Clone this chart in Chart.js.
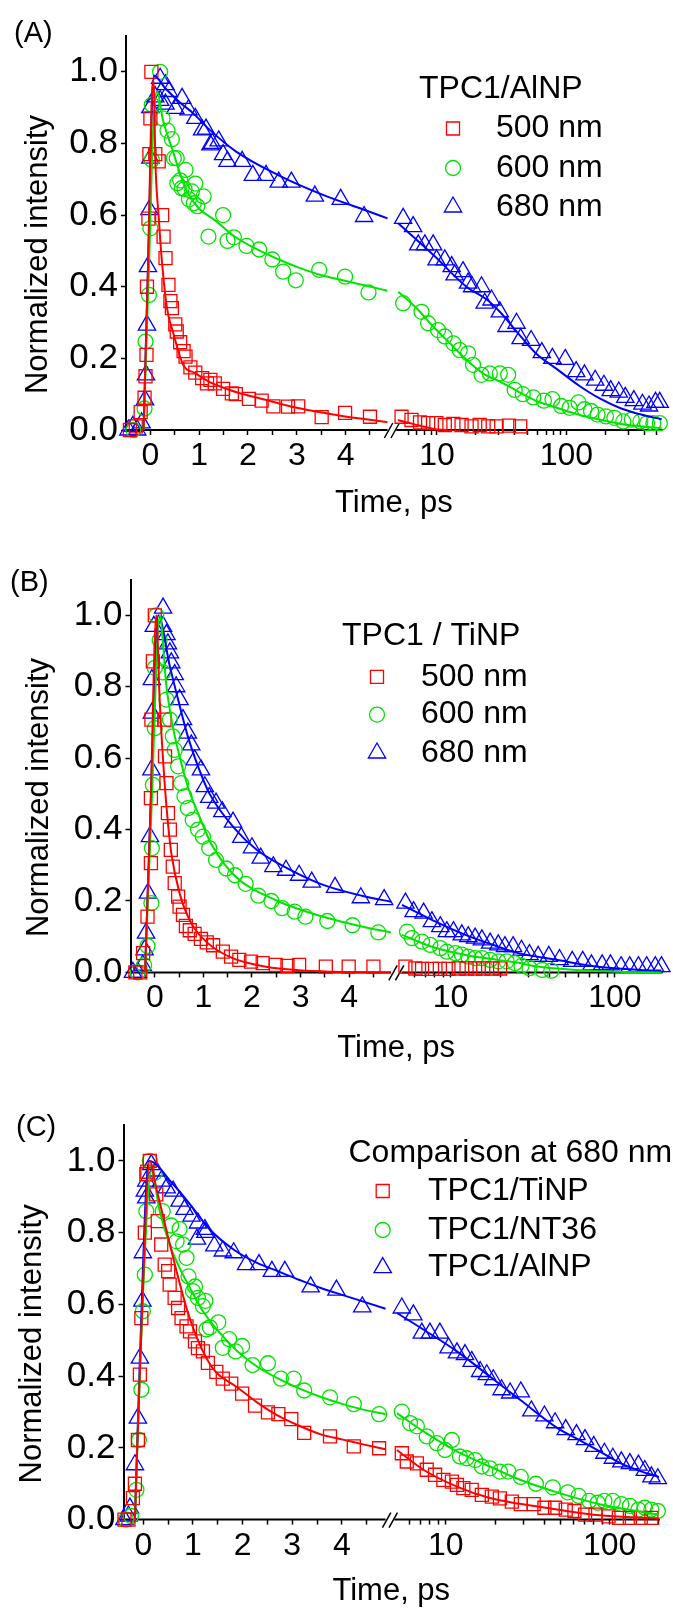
<!DOCTYPE html>
<html>
<head>
<meta charset="utf-8">
<script src="https://cdn.jsdelivr.net/npm/chart.js@4.4.1/dist/chart.umd.min.js"></script>
<style>
html,body{margin:0;padding:0;background:#fff;}
#wrap{position:relative;width:673px;height:1613px;overflow:hidden;}
canvas{position:absolute;left:0;}
</style>
</head>
<body>
<div id="wrap">
<canvas id="cA" width="673" height="537" style="top:0px"></canvas>
<canvas id="cB" width="673" height="537" style="top:537px"></canvas>
<canvas id="cC" width="673" height="539" style="top:1074px"></canvas>
</div>
<script>
// ---------------- DATA (time in ps, normalized intensity) ----------------
const TICKS_A = [0,0.5,1,1.5,2,2.5,3,3.5,4,4.5,6,7,8,9,10,20,30,40,50,60,70,80,90,100,200,300,400,500];
const TICKS_BC = [0,0.5,1,1.5,2,2.5,3,3.5,4,4.5,6,7,8,9,10,20,30,40,50,60,70,80,90,100];
const TICKS_C = [0,0.5,1,1.5,2,2.5,3,3.5,4,4.5,6,7,8,9,10,20,30,40,50,60,70,80,90,100,200];
const X_LABELS = [0,1,2,3,4,10,100];

// Panel A: TPC1/AlNP
const A_NAMES = ['500 nm','600 nm','680 nm'];
const A_500 = [[-0.42,0],[-0.3,0.01],[-0.2,0.05],[-0.12,0.09],[-0.1,0.15],[-0.08,0.21],[-0.07,0.40],[-0.04,0.59],[-0.02,0.77],[0.0,0.87],[0.02,1.0],[0.1,0.77],[0.17,0.75],[0.24,0.60],[0.27,0.54],[0.31,0.48],[0.37,0.405],[0.41,0.36],[0.44,0.34],[0.51,0.295],[0.54,0.275],[0.61,0.245],[0.68,0.22],[0.72,0.205],[0.82,0.175],[0.92,0.16],[1.06,0.145],[1.16,0.13],[1.23,0.14],[1.32,0.13],[1.49,0.115],[1.67,0.102],[1.75,0.10],[2.02,0.087],[2.28,0.082],[2.52,0.066],[2.82,0.065],[3.03,0.066],[3.51,0.036],[3.99,0.048],[4.5,0.037],[5.33,0.037],[6.36,0.028],[7.4,0.021],[8.55,0.019],[9.9,0.019],[11.5,0.014],[13.4,0.017],[15.5,0.014],[18.5,0.01],[21.4,0.014],[24.9,0.01],[28.9,0.01],[36,0.012],[44,0.01]];
const A_600 = [[-0.35,0],[-0.12,0.06],[-0.1,0.247],[-0.03,0.377],[0.0,0.563],[0.03,0.754],[0.03,0.908],[0.2,1.0],[0.25,0.87],[0.35,0.836],[0.44,0.812],[0.48,0.759],[0.54,0.759],[0.55,0.689],[0.61,0.697],[0.64,0.675],[0.70,0.673],[0.72,0.726],[0.79,0.644],[0.85,0.666],[0.89,0.633],[0.92,0.688],[0.96,0.625],[1.09,0.652],[1.19,0.54],[1.49,0.60],[1.58,0.528],[1.71,0.538],[1.97,0.514],[2.23,0.504],[2.50,0.476],[2.72,0.442],[2.98,0.418],[3.46,0.447],[3.99,0.428],[4.47,0.384],[5.48,0.354],[7.6,0.330],[8.55,0.298],[10.2,0.279],[11.5,0.261],[13.4,0.242],[15.0,0.223],[17.4,0.214],[19.0,0.182],[22.1,0.154],[25.6,0.158],[30.6,0.158],[35.5,0.154],[39.9,0.112],[46,0.10],[55.6,0.091],[67,0.082],[78,0.086],[91,0.067],[106,0.062],[124,0.077],[138,0.058],[155,0.053],[174,0.043],[202,0.038],[235,0.034],[275,0.024],[320,0.029],[373,0.024],[420,0.019],[470,0.019],[527,0.019]];
const A_680 = [[-0.45,0],[-0.36,0.01],[-0.27,0.0],[-0.18,0.02],[-0.11,0.084],[-0.09,0.154],[-0.07,0.293],[-0.05,0.456],[-0.02,0.615],[0.0,0.759],[0.0,0.90],[0.1,0.93],[0.2,0.982],[0.2,0.92],[0.31,0.964],[0.31,0.91],[0.38,0.945],[0.51,0.898],[0.65,0.926],[0.78,0.894],[0.92,0.870],[1.06,0.838],[1.14,0.84],[1.23,0.796],[1.27,0.80],[1.40,0.807],[1.49,0.769],[1.58,0.75],[1.88,0.75],[2.10,0.711],[2.37,0.711],[2.63,0.692],[2.89,0.692],[3.37,0.653],[3.90,0.644],[4.38,0.596],[5.48,0.591],[6.55,0.568],[7.17,0.517],[8.07,0.517],[9.35,0.517],[9.93,0.475],[11.5,0.475],[13.0,0.456],[13.7,0.433],[15.9,0.442],[17.4,0.41],[18.7,0.40],[22.1,0.40],[23.4,0.354],[26.4,0.363],[30.6,0.33],[34.5,0.289],[41.2,0.298],[44.3,0.255],[53.4,0.25],[64.6,0.216],[78,0.20],[98,0.197],[119,0.163],[138,0.154],[167,0.139],[195,0.125],[220,0.11],[254,0.106],[285,0.091],[332,0.082],[387,0.072],[435,0.067],[488,0.077],[526,0.077]];
const A_500_FIT = [[-0.14,0],[-0.05,0.45],[0.03,0.93],[0.07,0.975],[0.1,0.76],[0.17,0.595],[0.24,0.465],[0.34,0.34],[0.46,0.275],[0.68,0.18],[0.9,0.16],[1.2,0.135],[1.5,0.118],[1.8,0.104],[2.2,0.09],[3.0,0.062],[3.9,0.04],[4.86,0.022],[5.0,0.028],[6.0,0.02],[7.4,0.012],[9.4,0.003],[12,0]];
const A_600_FIT = [[-0.14,0],[-0.03,0.45],[0.06,0.85],[0.14,0.945],[0.25,0.87],[0.44,0.787],[0.72,0.675],[0.99,0.619],[1.32,0.586],[1.75,0.538],[2.19,0.504],[2.63,0.476],[3.07,0.452],[3.51,0.432],[3.94,0.418],[4.38,0.404],[4.86,0.389],[5.02,0.386],[6.96,0.34],[9.35,0.289],[12.6,0.242],[16.9,0.196],[22.7,0.158],[30.6,0.135],[41.2,0.11],[57.7,0.082],[84.5,0.062],[124,0.043],[181,0.029],[265,0.017],[388,0.01],[545,0.005]];
const A_680_FIT = [[-0.14,0],[-0.05,0.45],[0.07,0.99],[0.3,0.955],[0.6,0.915],[0.88,0.884],[1.2,0.84],[1.75,0.778],[2.63,0.711],[3.51,0.658],[4.38,0.615],[4.86,0.591],[5.02,0.577],[9.35,0.489],[16.9,0.40],[24.1,0.365],[30.6,0.33],[42.4,0.27],[57.7,0.215],[84.5,0.17],[124,0.125],[181,0.088],[265,0.06],[388,0.042],[545,0.03]];

// Panel B: TPC1 / TiNP
const B_NAMES = ['500 nm','600 nm','680 nm'];
const B_500 = [[-0.4,0],[-0.3,0],[-0.24,0.054],[-0.15,0.156],[-0.08,0.306],[-0.08,0.488],[-0.07,0.708],[-0.04,0.871],[0.0,1.0],[0.2,0.708],[0.21,0.605],[0.24,0.53],[0.27,0.446],[0.31,0.40],[0.33,0.343],[0.37,0.296],[0.41,0.25],[0.48,0.212],[0.51,0.184],[0.58,0.161],[0.64,0.13],[0.72,0.118],[0.82,0.108],[0.95,0.094],[1.07,0.084],[1.2,0.076],[1.40,0.058],[1.57,0.044],[1.74,0.035],[1.98,0.03],[2.22,0.026],[2.49,0.021],[2.73,0.018],[2.97,0.021],[3.52,0.016],[3.99,0.016],[4.5,0.016],[5.31,0.016],[6.1,0.011],[6.7,0.01],[7.7,0.01],[8.6,0.01],[9.7,0.01],[11.2,0.011],[12.5,0.011],[14.1,0.011],[15.8,0.011],[17.8,0.011],[20,0.011]];
const B_600 = [[-0.35,0],[-0.22,0.02],[-0.15,0.074],[-0.07,0.194],[-0.06,0.348],[-0.04,0.525],[0.0,0.684],[0.0,0.853],[0.03,1.0],[0.1,0.93],[0.17,0.84],[0.24,0.764],[0.31,0.708],[0.37,0.661],[0.41,0.623],[0.48,0.577],[0.54,0.53],[0.61,0.493],[0.68,0.46],[0.78,0.427],[0.89,0.40],[0.99,0.38],[1.12,0.348],[1.26,0.315],[1.47,0.291],[1.65,0.272],[1.87,0.248],[2.13,0.215],[2.40,0.20],[2.62,0.18],[2.88,0.17],[3.10,0.156],[3.55,0.144],[4.07,0.132],[4.6,0.112],[5.43,0.114],[5.82,0.096],[6.69,0.086],[7.52,0.077],[8.65,0.068],[9.48,0.058],[10.7,0.054],[11.7,0.05],[12.8,0.044],[14.1,0.04],[15.5,0.04],[17.4,0.035],[19.5,0.031],[21.9,0.031],[24.6,0.026],[27,0.018],[30.2,0.012],[36.1,0.007],[41,0.005]];
const B_680 = [[-0.45,0],[-0.35,0],[-0.25,0.02],[-0.21,0.063],[-0.18,0.11],[-0.14,0.222],[-0.1,0.38],[-0.07,0.567],[-0.06,0.726],[-0.06,0.82],[-0.02,0.969],[0.17,1.02],[0.17,0.969],[0.24,0.946],[0.27,0.92],[0.31,0.895],[0.34,0.867],[0.41,0.834],[0.44,0.80],[0.51,0.764],[0.58,0.708],[0.68,0.67],[0.75,0.637],[0.82,0.595],[0.95,0.567],[1.03,0.52],[1.12,0.49],[1.26,0.474],[1.39,0.45],[1.61,0.421],[1.78,0.378],[2.0,0.349],[2.18,0.32],[2.44,0.296],[2.70,0.286],[2.97,0.272],[3.23,0.253],[3.71,0.238],[4.24,0.209],[4.72,0.204],[5.31,0.194],[5.95,0.17],[6.85,0.166],[7.69,0.142],[8.65,0.128],[9.48,0.114],[10.4,0.114],[11.7,0.105],[12.8,0.10],[14.1,0.096],[15.5,0.091],[17.4,0.082],[19.5,0.077],[21.4,0.072],[24.0,0.072],[27,0.062],[30.2,0.05],[34.1,0.045],[39.6,0.045],[46,0.036],[55,0.031],[63.7,0.031],[72,0.021],[83.6,0.021],[94,0.021],[109,0.016],[123,0.016],[139,0.016],[156,0.016],[176,0.016],[192,0.016]];
const B_500_FIT = [[-0.2,0],[-0.09,0.45],[0.03,1.0],[0.1,0.764],[0.17,0.595],[0.24,0.465],[0.34,0.334],[0.51,0.222],[0.75,0.138],[1.09,0.082],[1.6,0.04],[2.29,0.016],[2.97,0.006],[3.65,0.002],[4.86,0.0]];
const B_600_FIT = [[-0.2,0],[-0.07,0.45],[0.1,1.0],[0.24,0.80],[0.37,0.689],[0.51,0.605],[0.68,0.52],[0.89,0.446],[1.16,0.36],[1.65,0.27],[2.53,0.20],[3.41,0.158],[4.28,0.128],[4.86,0.112],[5.06,0.105],[7.69,0.072],[12.3,0.049],[19.5,0.035],[25.8,0.027],[32,0.018],[58,0.007],[106,0.002],[192,0]];
const B_680_FIT = [[-0.2,0],[-0.09,0.45],[0.07,1.0],[0.31,0.857],[0.48,0.764],[0.68,0.661],[0.89,0.577],[1.12,0.502],[1.65,0.402],[2.09,0.344],[2.53,0.306],[3.41,0.248],[4.28,0.214],[4.86,0.198],[5.06,0.189],[7.69,0.147],[12.3,0.105],[19.5,0.072],[25.8,0.054],[43.3,0.036],[78.6,0.016],[143,0.007],[192,0.005]];

// Panel C: comparison at 680 nm
const C_NAMES = ['TPC1/TiNP','TPC1/NT36','TPC1/AlNP'];
const C_TINP = [[-0.38,0],[-0.3,0],[-0.21,0.06],[-0.17,0.10],[-0.11,0.222],[-0.07,0.404],[-0.04,0.562],[0.03,0.80],[0.06,0.963],[0.08,0.97],[0.13,1.0],[0.26,0.907],[0.29,0.832],[0.36,0.767],[0.43,0.711],[0.50,0.693],[0.53,0.655],[0.63,0.618],[0.70,0.59],[0.77,0.562],[0.87,0.539],[0.94,0.525],[1.04,0.497],[1.1,0.478],[1.2,0.469],[1.3,0.437],[1.47,0.412],[1.60,0.393],[1.77,0.379],[1.99,0.351],[2.25,0.318],[2.51,0.299],[2.72,0.294],[2.98,0.28],[3.24,0.242],[3.76,0.232],[4.24,0.204],[4.75,0.199],[5.39,0.185],[5.78,0.162],[6.66,0.157],[7.65,0.139],[8.6,0.125],[9.67,0.111],[10.9,0.106],[11.7,0.097],[12.8,0.088],[14.4,0.083],[16.6,0.069],[19.1,0.064],[21.4,0.059],[25.3,0.05],[28.7,0.043],[34.4,0.043],[40,0.033],[46.5,0.033],[54,0.028],[61,0.024],[70.8,0.014],[82,0.014],[98.5,0.009],[114,0.005],[133,0.005],[155,0.005],[180,0.005]];
const C_NT36 = [[-0.35,0],[-0.25,0.01],[-0.14,0.083],[-0.09,0.222],[-0.04,0.362],[-0.01,0.581],[0.03,0.683],[0.06,0.86],[0.13,1.0],[0.23,0.967],[0.39,0.86],[0.56,0.82],[0.67,0.776],[0.73,0.81],[0.80,0.767],[0.87,0.73],[0.91,0.678],[1.0,0.637],[1.04,0.65],[1.1,0.618],[1.2,0.595],[1.25,0.61],[1.27,0.53],[1.34,0.536],[1.51,0.55],[1.60,0.479],[1.73,0.503],[1.86,0.469],[1.99,0.484],[2.20,0.431],[2.51,0.436],[2.77,0.393],[3.03,0.393],[3.24,0.36],[3.76,0.341],[4.24,0.322],[4.75,0.294],[5.39,0.301],[6.05,0.269],[6.66,0.26],[7.65,0.232],[8.81,0.213],[9.9,0.194],[10.9,0.222],[12.2,0.176],[13.4,0.171],[15.1,0.166],[16.6,0.148],[18.6,0.143],[21.4,0.134],[24.1,0.134],[28.7,0.119],[35.5,0.10],[45,0.09],[55.6,0.076],[64.7,0.066],[75,0.052],[84.6,0.047],[93,0.052],[104.7,0.052],[118,0.043],[133,0.038],[150,0.028],[164,0.033],[180,0.028],[197,0.024]];
const C_ALNP = [[-0.38,0],[-0.3,0.01],[-0.27,0.032],[-0.17,0.153],[-0.11,0.283],[-0.07,0.45],[-0.02,0.609],[-0.01,0.744],[0.03,0.916],[0.06,0.897],[0.06,0.944],[0.16,0.99],[0.26,0.972],[0.36,0.944],[0.47,0.925],[0.6,0.916],[0.73,0.888],[0.83,0.865],[0.97,0.846],[1.08,0.782],[1.1,0.827],[1.24,0.809],[1.25,0.801],[1.43,0.763],[1.60,0.749],[1.82,0.744],[2.07,0.711],[2.33,0.711],[2.59,0.692],[2.85,0.692],[3.37,0.649],[3.89,0.64],[4.41,0.593],[5.39,0.59],[6.34,0.571],[7.14,0.52],[8.0,0.52],[9.2,0.52],[10.4,0.479],[11.7,0.465],[13.1,0.46],[14.4,0.441],[16.2,0.413],[17.8,0.404],[19.5,0.39],[21.9,0.362],[24.7,0.353],[28.7,0.356],[33.3,0.303],[40,0.289],[46.5,0.27],[54,0.251],[62.8,0.237],[70.8,0.223],[80,0.204],[93,0.185],[104.7,0.171],[118,0.161],[133,0.156],[150,0.152],[164,0.137],[180,0.119],[197,0.114]];
const C_TINP_FIT = [[-0.17,0],[-0.06,0.45],[0.13,1.0],[0.26,0.925],[0.47,0.804],[0.67,0.692],[0.87,0.59],[1.07,0.51],[1.30,0.443],[1.47,0.41],[1.86,0.372],[2.29,0.327],[2.72,0.289],[3.15,0.261],[3.59,0.237],[4.02,0.223],[4.45,0.209],[4.88,0.196],[5.03,0.194],[7.3,0.139],[11.7,0.092],[18.6,0.06],[28.4,0.044],[47.8,0.028],[87,0.012],[159,0.005],[200,0.003]];
const C_NT36_FIT = [[-0.17,0],[-0.06,0.45],[0.16,0.972],[0.33,0.86],[0.53,0.767],[0.73,0.702],[0.94,0.646],[1.2,0.581],[1.86,0.474],[2.29,0.427],[2.72,0.393],[3.15,0.365],[3.59,0.341],[4.02,0.322],[4.45,0.306],[4.88,0.294],[5.03,0.297],[7.3,0.246],[11.7,0.19],[18.6,0.148],[28.4,0.111],[47.8,0.076],[87,0.043],[159,0.021],[200,0.014]];
const C_ALNP_FIT = [[-0.17,0],[-0.07,0.45],[0.11,1.0],[0.6,0.935],[0.94,0.879],[1.34,0.809],[1.86,0.749],[2.29,0.716],[2.72,0.692],[3.15,0.668],[3.59,0.645],[4.02,0.626],[4.45,0.607],[4.88,0.588],[5.03,0.576],[7.3,0.53],[11.7,0.469],[18.6,0.399],[28.4,0.334],[47.8,0.256],[64.7,0.223],[87,0.19],[118,0.156],[159,0.133],[200,0.119]];

// ---------------- STYLE ----------------
const FONT = "'Liberation Sans', Arial, Helvetica, sans-serif";
Chart.defaults.font.family = FONT;
Chart.defaults.color = '#000';
const COLORS = ['#ff0000', '#00e400', '#0000ff'];
const STYLES = ['rect', 'circle', 'triangle'];
const RADII = [9.2, 7.5, 10];

// Broken time axis: linear part, small gap, logarithmic part
class BrokenTimeScale extends Chart.Scale {
  static id = 'brokenTime';
  static defaults = {};
  determineDataLimits() { this.min = this.options.min; this.max = this.options.max; }
  buildTicks() { return []; }
  getLabelForValue(v) { return String(v); }
  _frac(v) {
    const o = this.options;
    if (v <= o.linEnd) return (v - o.min) / (o.linEnd - o.min) * o.splitLin;
    const l0 = Math.log10(o.logStart), l1 = Math.log10(o.max);
    return o.splitLog + (Math.log10(v) - l0) / (l1 - l0) * (1 - o.splitLog);
  }
  getPixelForValue(v) {
    if (v === null || v === undefined || isNaN(v)) return NaN;
    return this.getPixelForDecimal(this._frac(v));
  }
  getValueForPixel(p) {
    const o = this.options, f = this.getDecimalForPixel(p);
    if (f <= o.splitLin) return o.min + f / o.splitLin * (o.linEnd - o.min);
    const l0 = Math.log10(o.logStart), l1 = Math.log10(o.max);
    return Math.pow(10, l0 + (f - o.splitLog) / (1 - o.splitLog) * (l1 - l0));
  }
}
Chart.register(BrokenTimeScale);

const LEGEND_FONT = Chart.helpers.toFont({size: 32, family: FONT});
const PANEL_FONT = Chart.helpers.toFont({size: 29, family: FONT});

const decoPlugin = {
  id: 'deco',
  beforeDatasetsDraw(chart) {
    const {ctx, chartArea} = chart;
    const xs = chart.scales.x;
    const y = chartArea.bottom;
    const xa = xs.getPixelForValue(xs.options.linEnd);
    const xb = xs.getPixelForDecimal(xs.options.splitLog);
    ctx.save();
    ctx.strokeStyle = '#000';
    ctx.lineWidth = 2;
    ctx.beginPath();
    ctx.moveTo(chartArea.left, y); ctx.lineTo(xa, y);
    ctx.moveTo(xb, y); ctx.lineTo(chartArea.right + 1, y);
    ctx.stroke();
    ctx.lineWidth = 1.5;
    const mid = (xa + xb) / 2;
    [-3.3, 3.3].forEach(dx => {
      ctx.beginPath();
      ctx.moveTo(mid + dx - 4.2, y + 8);
      ctx.lineTo(mid + dx + 4.2, y - 7);
      ctx.stroke();
    });
    ctx.restore();
  },
  afterDraw(chart, args, opts) {
    const ctx = chart.ctx;
    ctx.save();
    const txt = {color: '#000', textAlign: 'left', textBaseline: 'middle'};
    Chart.helpers.renderText(ctx, opts.panel, opts.panelX, opts.panelY, PANEL_FONT, txt);
    Chart.helpers.renderText(ctx, opts.title, opts.titleX, opts.titleY, LEGEND_FONT, txt);
    opts.rows.forEach((ry, i) => {
      const ds = chart.data.datasets[3 + i];
      ctx.save();
      ctx.strokeStyle = ds.borderColor;
      ctx.fillStyle = 'rgba(0,0,0,0)';
      ctx.lineWidth = ds.pointBorderWidth;
      Chart.helpers.drawPoint(ctx, {pointStyle: ds.pointStyle, radius: ds.pointRadius, rotation: 0, borderWidth: ds.pointBorderWidth}, opts.markerX, ry);
      ctx.restore();
      Chart.helpers.renderText(ctx, ds.label, opts.textX, ry, LEGEND_FONT, txt);
    });
    ctx.restore();
  }
};

function toPoints(pairs, gapAt) {
  const out = [];
  pairs.forEach((p, i) => {
    if (gapAt !== undefined && i > 0 && pairs[i - 1][0] <= gapAt && p[0] > gapAt) out.push({x: gapAt, y: null});
    out.push({x: p[0], y: p[1]});
  });
  return out;
}

function makePanel(id, H, L, markers, fits, names, ticks, deco) {
  const datasets = [];
  fits.forEach((f, i) => datasets.push({
    label: names[i] + ' fit', data: toPoints(f, L.linEnd), showLine: true,
    borderColor: COLORS[i], borderWidth: 2, pointRadius: 0, fill: false,
    cubicInterpolationMode: 'monotone', clip: false
  }));
  markers.forEach((m, i) => datasets.push({
    label: names[i], data: toPoints(m), showLine: false,
    pointStyle: STYLES[i], pointRadius: RADII[i], pointBorderWidth: 1.3,
    borderColor: COLORS[i], backgroundColor: 'rgba(0,0,0,0)', clip: false
  }));
  return new Chart(document.getElementById(id), {
    type: 'scatter',
    data: {datasets},
    options: {
      responsive: false, animation: false, events: [],
      layout: {padding: {left: 0, top: L.top, right: 673 - L.right, bottom: 0}},
      plugins: {legend: {display: false}, tooltip: {enabled: false}, deco},
      scales: {
        x: {
          type: 'brokenTime', position: 'bottom',
          min: L.min, max: L.max, linEnd: L.linEnd, logStart: L.logStart,
          splitLin: L.splitLin, splitLog: L.splitLog,
          afterBuildTicks: s => { s.ticks = ticks.map(v => ({value: v})); },
          afterFit: s => { s.height = H - L.bottom; },
          ticks: {autoSkip: false, maxRotation: 0, minRotation: 0, padding: 2, color: '#000',
                  font: {size: 32}, callback: v => X_LABELS.includes(v) ? String(v) : ''},
          grid: {display: true, drawOnChartArea: false, drawTicks: true, tickLength: 5, tickColor: '#000', tickWidth: 1.5},
          border: {display: false},
          title: {display: true, text: 'Time, ps', color: '#000', font: {size: 31}, padding: {top: 0, bottom: L.xTitlePad}}
        },
        y: {
          type: 'linear', position: 'left', min: 0, max: 1.1,
          afterFit: s => { s.width = L.left; },
          ticks: {stepSize: 0.1, padding: 3, color: '#000', font: {size: 35},
                  callback: v => (Math.round(v * 10) % 2 === 0) ? v.toFixed(1) : ''},
          grid: {drawOnChartArea: false, drawTicks: true, tickLength: 5, tickColor: '#000', tickWidth: 1.5},
          border: {display: true, color: '#000', width: 2},
          title: {display: true, text: 'Normalized intensity     ', color: '#000', font: {size: 31}, padding: {top: L.yTitlePad, bottom: 0}}
        }
      }
    },
    plugins: [decoPlugin]
  });
}

makePanel('cA', 537,
  {left: 126, right: 662, top: 36, bottom: 430, min: -0.5, max: 545, linEnd: 4.86, logStart: 4.85,
   splitLin: 0.4882, splitLog: 0.5045, xTitlePad: 15, yTitlePad: 19.4},
  [A_500, A_600, A_680], [A_500_FIT, A_600_FIT, A_680_FIT], A_NAMES, TICKS_A,
  {panel: '(A)', panelX: 14, panelY: 34, title: 'TPC1/AlNP', titleX: 419, titleY: 89,
   markerX: 453, textX: 496, rows: [128.5, 168, 207]});

makePanel('cB', 537,
  {left: 130.5, right: 664, top: 42.6, bottom: 435.4, min: -0.5, max: 192.7, linEnd: 4.86, logStart: 5.04,
   splitLin: 0.4903, splitLog: 0.5106, xTitlePad: 7.4, yTitlePad: 20.8},
  [B_500, B_600, B_680], [B_500_FIT, B_600_FIT, B_680_FIT], B_NAMES, TICKS_BC,
  {panel: '(B)', panelX: 10, panelY: 46, title: 'TPC1 / TiNP', titleX: 342, titleY: 99.4,
   markerX: 377, textX: 421, rows: [139.8, 177.6, 216]});

makePanel('cC', 539,
  {left: 123.5, right: 659, top: 51.1, bottom: 445.6, min: -0.4, max: 200.3, linEnd: 4.88, logStart: 4.85,
   splitLin: 0.4894, splitLog: 0.5057, xTitlePad: 3.4, yTitlePad: 13.7},
  [C_TINP, C_NT36, C_ALNP], [C_TINP_FIT, C_NT36_FIT, C_ALNP_FIT], C_NAMES, TICKS_C,
  {panel: '(C)', panelX: 16, panelY: 53.5, title: 'Comparison at 680 nm', titleX: 348.5, titleY: 79,
   markerX: 382.7, textX: 428, rows: [117, 156, 193.6]});
</script>
</body>
</html>
